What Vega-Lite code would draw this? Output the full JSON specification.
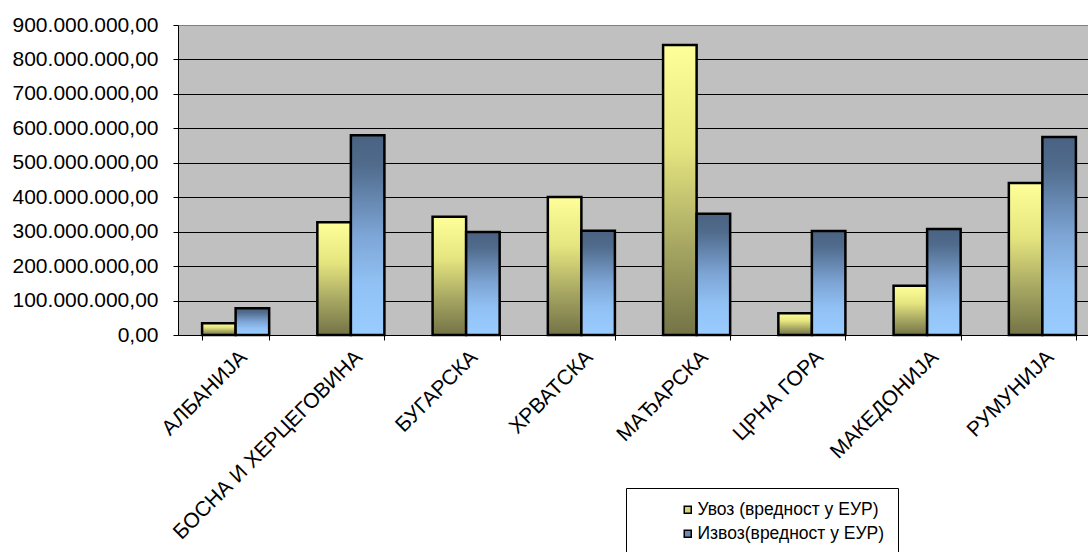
{
  "$schema": "https://vega.github.io/schema/vega-lite/v6.json",
  "width": 922,
  "height": 310,
  "autosize": {"type": "none"},
  "padding": {"left": 178, "top": 25, "right": -12, "bottom": 217},
  "background": "white",
  "config": {
    "locale": {"number": {"decimal": ",", "thousands": ".", "grouping": [3], "currency": ["", ""]}},
    "view": {"fill": "#C0C0C0", "stroke": "#808080", "strokeWidth": 1},
    "font": "Liberation Sans"
  },
  "data": {
    "values": [
      {"country": "АЛБАНИЈА", "series": "Увоз (вредност у ЕУР)", "value": 34000000},
      {"country": "АЛБАНИЈА", "series": "Извоз(вредност у ЕУР)", "value": 77500000},
      {"country": "БОСНА И ХЕРЦЕГОВИНА", "series": "Увоз (вредност у ЕУР)", "value": 327000000},
      {"country": "БОСНА И ХЕРЦЕГОВИНА", "series": "Извоз(вредност у ЕУР)", "value": 580000000},
      {"country": "БУГАРСКА", "series": "Увоз (вредност у ЕУР)", "value": 343000000},
      {"country": "БУГАРСКА", "series": "Извоз(вредност у ЕУР)", "value": 299000000},
      {"country": "ХРВАТСКА", "series": "Увоз (вредност у ЕУР)", "value": 401000000},
      {"country": "ХРВАТСКА", "series": "Извоз(вредност у ЕУР)", "value": 303000000},
      {"country": "МАЂАРСКА", "series": "Увоз (вредност у ЕУР)", "value": 842000000},
      {"country": "МАЂАРСКА", "series": "Извоз(вредност у ЕУР)", "value": 352000000},
      {"country": "ЦРНА ГОРА", "series": "Увоз (вредност у ЕУР)", "value": 63000000},
      {"country": "ЦРНА ГОРА", "series": "Извоз(вредност у ЕУР)", "value": 302000000},
      {"country": "МАКЕДОНИЈА", "series": "Увоз (вредност у ЕУР)", "value": 143000000},
      {"country": "МАКЕДОНИЈА", "series": "Извоз(вредност у ЕУР)", "value": 308000000},
      {"country": "РУМУНИЈА", "series": "Увоз (вредност у ЕУР)", "value": 441000000},
      {"country": "РУМУНИЈА", "series": "Извоз(вредност у ЕУР)", "value": 575000000}
    ]
  },
  "encoding": {
    "x": {
      "field": "country", "type": "nominal", "sort": null,
      "scale": {"paddingInner": 0.418, "paddingOuter": 0.209},
      "axis": {
        "title": null, "labelAngle": -45, "tickBand": "extent", "tickSize": 5,
        "labelPadding": 6, "domainColor": "black", "tickColor": "black", "grid": false,
        "labelFontSize": 21, "labelFont": "Liberation Sans", "labelColor": "black", "labelLimit": 400
      }
    },
    "xOffset": {"field": "series", "type": "nominal", "sort": null, "scale": {"paddingInner": 0, "paddingOuter": 0}},
    "y": {
      "field": "value", "type": "quantitative",
      "scale": {"domain": [0, 900000000], "nice": false},
      "axis": {
        "title": null, "format": ",.2f",
        "values": [0, 100000000, 200000000, 300000000, 400000000, 500000000, 600000000, 700000000, 800000000, 900000000],
        "tickSize": 5, "labelPadding": 15, "domainColor": "black", "tickColor": "black",
        "gridColor": {"condition": {"test": "datum.value === 900000000", "value": "#808080"}, "value": "black"},
        "gridOpacity": 1, "gridWidth": 1,
        "labelFontSize": 21, "labelFont": "Liberation Sans", "labelColor": "black"
      }
    }
  },
  "layer": [
    {
      "mark": {"type": "bar", "stroke": "black", "strokeWidth": 2.5},
      "encoding": {
        "fill": {
          "condition": {
            "test": "datum.series === 'Увоз (вредност у ЕУР)'",
            "value": {"gradient": "linear", "x1": 0, "y1": 0, "x2": 0, "y2": 1,
              "stops": [
                {"offset": 0, "color": "#FFFF99"},
                {"offset": 0.35, "color": "#E6E680"},
                {"offset": 0.7, "color": "#A5A562"},
                {"offset": 1, "color": "#737346"}
              ]}
          },
          "value": {"gradient": "linear", "x1": 0, "y1": 0, "x2": 0, "y2": 1,
            "stops": [
              {"offset": 0, "color": "#4A6282"},
              {"offset": 0.15, "color": "#506B8C"},
              {"offset": 0.5, "color": "#7DA5D5"},
              {"offset": 0.75, "color": "#92C2F5"},
              {"offset": 1, "color": "#99CCFF"}
            ]}
        }
      }
    },
    {
      "mark": {"type": "bar", "opacity": 0},
      "encoding": {
        "color": {
          "field": "series", "type": "nominal", "sort": null,
          "scale": {"range": ["#D8D47A", "#6B8CB5"]},
          "legend": {
            "title": null, "orient": "none", "legendX": 448, "legendY": 463,
            "strokeColor": "black", "fillColor": "white", "padding": 13,
            "labelFontSize": 17.5, "labelFont": "Liberation Sans", "labelColor": "black", "labelLimit": 400,
            "symbolType": "square", "symbolSize": 49, "symbolOpacity": 1,
            "symbolStrokeColor": "black", "symbolStrokeWidth": 1.5,
            "symbolOffset": 40, "labelOffset": 1, "rowPadding": 5
          }
        }
      }
    }
  ]
}
